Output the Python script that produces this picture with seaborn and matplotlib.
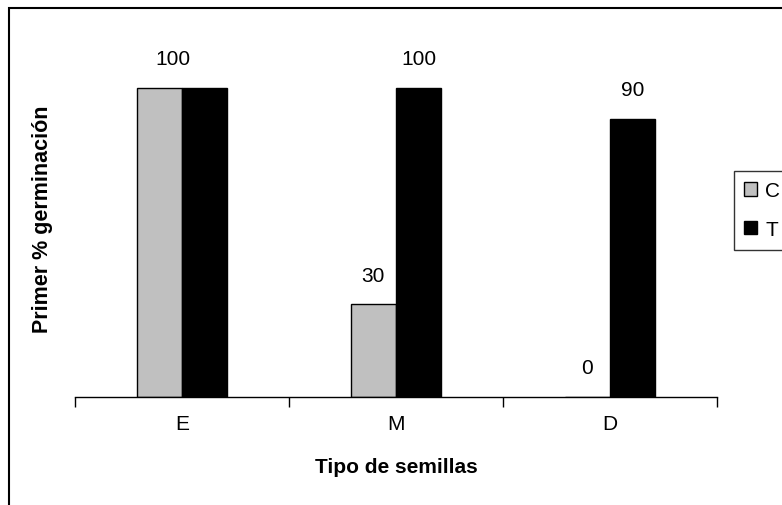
import matplotlib
matplotlib.use("Agg")
import matplotlib.pyplot as plt
import matplotlib.patches as mpatches
import seaborn as sns
import pandas as pd

# ---- data ----
categories = ["E", "M", "D"]
series_names = ["C", "T"]
values_C = [100, 30, 0]
values_T = [100, 100, 90]
# E: both bars are 100, the reference shows a single "100" label
labels_C = ["100", "30", "0"]
labels_T = ["", "100", "90"]
x_label = "Tipo de semillas"
y_label = "Primer % germinación"

df = pd.DataFrame({
    "cat": categories * 2,
    "serie": ["C"] * 3 + ["T"] * 3,
    "val": values_C + values_T,
})

sns.set_style("white")
plt.rcParams["font.family"] = ["Liberation Sans", "DejaVu Sans"]
plt.rcParams["text.color"] = "black"
plt.rcParams["axes.labelcolor"] = "black"
plt.rcParams["xtick.color"] = "black"
plt.rcParams["ytick.color"] = "black"

W, H = 782, 506
fig = plt.figure(figsize=(W / 100, H / 100), dpi=100)
ax = fig.add_axes([75 / W, (H - 398) / H, (717 - 75) / W, (398 - 27) / H])

sns.barplot(data=df, x="cat", y="val", hue="serie", order=categories,
            hue_order=series_names, palette={"C": "#C0C0C0", "T": "#000000"},
            width=0.425, gap=0, edgecolor="black", linewidth=1.0,
            saturation=1, ax=ax, legend=True, err_kws={"linewidth": 0})

ax.set_xlim(-0.5, 2.5)
ax.set_ylim(0, 120)

# value labels
label_dx = [[10, 0, 0], [0, 0, 0]]  # points offset (only E label shifted)
for si, (cont, labs) in enumerate(zip(ax.containers, [labels_C, labels_T])):
    for bi, (bar, lab) in enumerate(zip(cont, labs)):
        if not lab:
            continue
        cx = bar.get_x() + bar.get_width() / 2
        ax.annotate(lab, (cx, bar.get_height()), xytext=(label_dx[si][bi], 17),
                    textcoords="offset points", ha="center", va="baseline",
                    fontsize=15, color="black")

# spines and ticks
for s in ["top", "right", "left"]:
    ax.spines[s].set_visible(False)
ax.spines["bottom"].set_color("black")
ax.spines["bottom"].set_linewidth(1.0)
ax.set_yticks([])
ax.set_xticks(range(len(categories)))
ax.set_xticklabels(categories, fontsize=15)
ax.set_xticks([-0.5, 0.5, 1.5, 2.5], minor=True)
ax.tick_params(axis="x", which="major", length=0, pad=12, labelcolor="black")
ax.tick_params(axis="x", which="minor", length=7, width=1.0, color="black",
               direction="out", bottom=True)

ax.set_xlabel(x_label, fontsize=15, fontweight="bold", color="black")
ax.set_ylabel(y_label, fontsize=15.5, fontweight="bold", color="black")
ax.xaxis.set_label_coords(0.5, -(468 - 398) / (398 - 27))
ax.xaxis.label.set_va("center")
ax.yaxis.set_label_coords((43 - 75) / (717 - 75), (398 - 219) / (398 - 27))
ax.yaxis.label.set_va("center")

# legend
sns.move_legend(ax, loc="upper left", bbox_to_anchor=(734 / W, 1 - 172 / H),
                bbox_transform=fig.transFigure, title=None, frameon=True,
                fancybox=False, borderaxespad=0, fontsize=15,
                handlelength=0.6, handleheight=0.6, handletextpad=0.4,
                labelspacing=0.95, borderpad=0.5)
leg = ax.get_legend()
leg.get_frame().set_edgecolor("black")
leg.get_frame().set_linewidth(1.0)
for t in leg.get_texts():
    t.set_color("black")
for h in leg.legend_handles:
    h.set_edgecolor("black")
    h.set_linewidth(1.0)

# outer chart frame (partially cut by image edges)
frame = mpatches.Rectangle((9 / W, -0.1), 1.1, (1 - 9 / H) + 0.1,
                           transform=fig.transFigure, fill=False,
                           edgecolor="black", linewidth=1.5, clip_on=False)
fig.patches.append(frame)

fig.savefig("out.png", dpi=100)
